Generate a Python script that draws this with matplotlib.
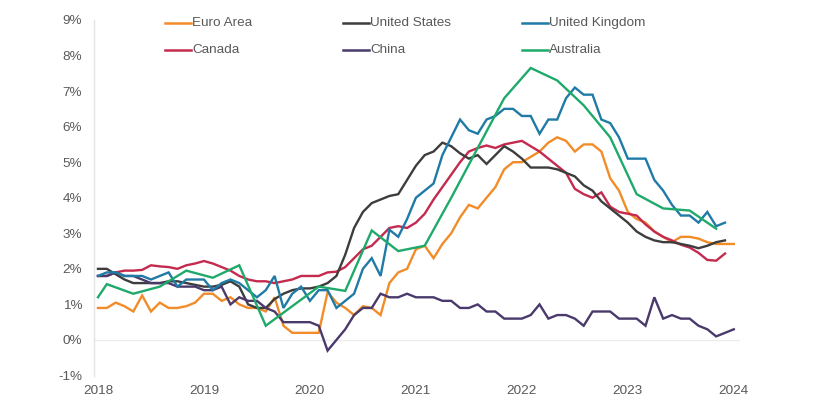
import matplotlib
matplotlib.use("Agg")
import matplotlib.pyplot as plt
from matplotlib.lines import Line2D
import numpy as np

plt.rcParams['font.family'] = ['Liberation Sans', 'DejaVu Sans']

# month index 0 .. 72, labelled 2018 .. 2024
year_labels = ['2018', '2019', '2020', '2021', '2022', '2023', '2024']
y_ticks = [-1, 0, 1, 2, 3, 4, 5, 6, 7, 8, 9]

euro_area = [0.9, 0.9, 1.05, 0.95, 0.8, 1.25, 0.8, 1.05, 0.9, 0.9, 0.95, 1.05,
             1.3, 1.3, 1.1, 1.2, 1.0, 0.9, 0.9, 0.8, 1.2, 0.4, 0.2, 0.2,
             0.2, 0.2, 1.35, 1.05, 0.9, 0.7, 0.95, 0.9, 0.7, 1.6, 1.9, 2.0,
             2.55, 2.65, 2.3, 2.7, 3.0, 3.45, 3.8, 3.7, 4.0, 4.3, 4.8, 5.0,
             5.0, 5.15, 5.3, 5.55, 5.7, 5.6, 5.3, 5.5, 5.5, 5.3, 4.55, 4.2,
             3.6, 3.4, 3.3, 3.05, 2.9, 2.75, 2.9, 2.9, 2.85, 2.75, 2.7, 2.7,
             2.7]

united_states = [2.0, 2.0, 1.85, 1.7, 1.6, 1.6, 1.6, 1.6, 1.65, 1.65, 1.6, 1.55,
                 1.5, 1.5, 1.55, 1.65, 1.5, 1.0, 0.9, 0.9, 1.15, 1.3, 1.4, 1.45,
                 1.45, 1.5, 1.6, 1.8, 2.4, 3.15, 3.6, 3.85, 3.95, 4.05, 4.1, 4.5,
                 4.9, 5.2, 5.3, 5.55, 5.45, 5.25, 5.1, 5.2, 4.95, 5.2, 5.45, 5.3,
                 5.1, 4.85, 4.85, 4.85, 4.8, 4.7, 4.6, 4.35, 4.2, 3.9, 3.7, 3.5,
                 3.3, 3.05, 2.9, 2.8, 2.75, 2.75, 2.7, 2.65, 2.58, 2.65, 2.75, 2.8]

united_kingdom = [1.8, 1.9, 1.9, 1.8, 1.8, 1.8, 1.7, 1.8, 1.9, 1.5, 1.7, 1.7,
                  1.7, 1.4, 1.6, 1.7, 1.6, 1.4, 1.2, 1.4, 1.8, 0.9, 1.3, 1.5,
                  1.1, 1.4, 1.4, 0.9, 1.1, 1.3, 2.0, 2.3, 1.8, 3.1, 2.9, 3.4,
                  4.0, 4.2, 4.4, 5.2, 5.7, 6.2, 5.9, 5.8, 6.2, 6.3, 6.5, 6.5,
                  6.3, 6.3, 5.8, 6.2, 6.2, 6.8, 7.1, 6.9, 6.9, 6.2, 6.1, 5.7,
                  5.1, 5.1, 5.1, 4.5, 4.2, 3.8, 3.5, 3.5, 3.3, 3.6, 3.2, 3.3]

canada = [1.8, 1.8, 1.9, 1.95, 1.95, 1.97, 2.1, 2.07, 2.05, 2.0, 2.1, 2.15,
          2.22, 2.15, 2.05, 1.95, 1.8, 1.7, 1.65, 1.65, 1.6, 1.65, 1.7, 1.8,
          1.8, 1.8, 1.9, 1.92, 2.05, 2.3, 2.55, 2.65, 2.9, 3.15, 3.2, 3.15,
          3.3, 3.55, 3.95, 4.3, 4.65, 5.0, 5.3, 5.4, 5.47, 5.4, 5.5, 5.55,
          5.6, 5.45, 5.3, 5.1, 4.9, 4.7, 4.25, 4.1, 4.0, 4.15, 3.75, 3.6,
          3.55, 3.5, 3.25, 3.05, 2.9, 2.8, 2.68, 2.6, 2.45, 2.25, 2.23, 2.43]

china = [1.8, 1.8, 1.9, 1.8, 1.8, 1.7, 1.6, 1.6, 1.6, 1.5, 1.5, 1.5,
         1.4, 1.4, 1.5, 1.0, 1.2, 1.1, 1.1, 0.9, 0.8, 0.5, 0.5, 0.5,
         0.5, 0.4, -0.3, 0.0, 0.3, 0.7, 0.9, 0.9, 1.3, 1.2, 1.2, 1.3,
         1.2, 1.2, 1.2, 1.1, 1.1, 0.9, 0.9, 1.0, 0.8, 0.8, 0.6, 0.6,
         0.6, 0.7, 1.0, 0.6, 0.7, 0.7, 0.6, 0.4, 0.8, 0.8, 0.8, 0.6,
         0.6, 0.6, 0.4, 1.2, 0.6, 0.7, 0.6, 0.6, 0.4, 0.3, 0.1, 0.2,
         0.3]

# Australia is quarterly
australia_months = [0, 1, 4, 7, 10, 13, 16, 19, 22, 25, 28, 31, 34, 37,
                    40, 43, 46, 49, 52, 55, 58, 61, 64, 67, 70]
australia = [1.2, 1.57, 1.3, 1.5, 1.95, 1.75, 2.1, 0.4, 0.95, 1.5, 1.38, 3.08, 2.5, 2.65,
             4.0, 5.4, 6.8, 7.65, 7.3, 6.6, 5.7, 4.1, 3.7, 3.64, 3.13]

series = [
    ("Euro Area", euro_area, "#F28C28"),
    ("Canada", canada, "#C42A4E"),
    ("United States", united_states, "#3D3D3D"),
    ("China", china, "#4A3A6C"),
    ("United Kingdom", united_kingdom, "#1F7BA6"),
    ("Australia", australia, "#1FAA6B"),
]

fig = plt.figure(figsize=(8.22, 4.16), dpi=100)
ax = fig.add_axes([94 / 822, 1 - 375.5 / 416, (740 - 94) / 822, (375.5 - 20) / 416])

# zero line first so it sits under the data
ax.axhline(0, color="#ececec", lw=1.0, zorder=1)

for name, vals, col in series:
    if name == "Australia":
        xs = australia_months
    else:
        xs = np.arange(len(vals))
    ax.plot(xs, vals, color=col, lw=1.7, zorder=3, solid_joinstyle="miter")

ax.set_xlim(-0.45, 72.7)
ax.set_ylim(-1, 9)
ax.set_xticks(np.arange(0, 73, 12))
ax.set_xticklabels(year_labels)
ax.set_yticks(y_ticks)
ax.set_yticklabels([f"{v}%" for v in y_ticks])
ax.tick_params(length=0, labelsize=9.7, colors="#595959")
ax.tick_params(axis="y", pad=8.5)
ax.tick_params(axis="x", pad=7)

for s in ["top", "right", "bottom"]:
    ax.spines[s].set_visible(False)
ax.spines["left"].set_color("#e4e4e4")
ax.spines["left"].set_linewidth(1.0)

# legend, three columns by two rows
col_x = [165, 343, 522]
row_y = [23, 50]
for i, (name, vals, col) in enumerate(series):
    cx = col_x[i // 2]
    ry = row_y[i % 2]
    fy = 1 - ry / 416
    fig.add_artist(Line2D([cx / 822, (cx + 26) / 822], [fy, fy], color=col, lw=1.8))
    fig.text((cx + 27) / 822, fy, name, fontsize=9.7, color="#595959", va="center", ha="left")

fig.savefig("out.png", dpi=100)
